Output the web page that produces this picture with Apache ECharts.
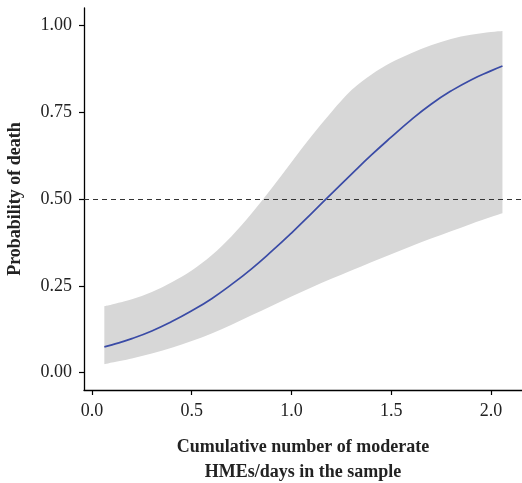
<!DOCTYPE html>
<html>
<head>
<meta charset="utf-8">
<script src="https://cdn.jsdelivr.net/npm/echarts@6/dist/echarts.min.js"></script>
<style>html,body{margin:0;padding:0;background:#fff;}#c{width:522px;height:483px;}</style>
</head>
<body>
<div id="c"></div>
<script>
// Cumulative number of moderate HMEs/days (x)
var xs = [0.062, 0.1, 0.2, 0.3, 0.4, 0.5, 0.6, 0.7, 0.8, 0.9, 1.0, 1.1, 1.2, 1.3, 1.4, 1.5, 1.6, 1.7, 1.8, 1.9, 2.0, 2.058];
// Fitted probability of death
var fitted = [0.074, 0.080, 0.098, 0.120, 0.147, 0.178, 0.213, 0.254, 0.299, 0.349, 0.402, 0.458, 0.515, 0.571, 0.626, 0.678, 0.728, 0.773, 0.811, 0.843, 0.869, 0.883];
// Confidence band
var upper = [0.191, 0.196, 0.211, 0.232, 0.260, 0.294, 0.338, 0.393, 0.458, 0.530, 0.606, 0.681, 0.750, 0.813, 0.858, 0.893, 0.920, 0.943, 0.961, 0.973, 0.981, 0.984];
var lower = [0.024, 0.029, 0.041, 0.055, 0.072, 0.091, 0.113, 0.138, 0.165, 0.192, 0.219, 0.245, 0.270, 0.294, 0.318, 0.341, 0.364, 0.386, 0.407, 0.428, 0.448, 0.459];
var refLevel = 0.5;
var xTicks = [0, 0.5, 1.0, 1.5, 2.0];
var yTicks = [0, 0.25, 0.5, 0.75, 1.0];
var xTitle = 'Cumulative number of moderate\nHMEs/days in the sample';
var yTitle = 'Probability of death';

var font = '"Liberation Serif", "DejaVu Serif", serif';
var chart = echarts.init(document.getElementById('c'), null, {renderer: 'canvas'});

var bandData = xs.map(function (x, i) { return [x, upper[i], lower[i]]; });
var fitData = xs.map(function (x, i) { return [x, fitted[i]]; });

// Catmull-Rom -> cubic Bezier path segments through pixel points
function curveCmds(pts) {
  var s = '';
  for (var i = 0; i < pts.length - 1; i++) {
    var p0 = pts[i - 1] || pts[i], p1 = pts[i], p2 = pts[i + 1], p3 = pts[i + 2] || pts[i + 1];
    var c1x = p1[0] + (p2[0] - p0[0]) / 6, c1y = p1[1] + (p2[1] - p0[1]) / 6;
    var c2x = p2[0] - (p3[0] - p1[0]) / 6, c2y = p2[1] - (p3[1] - p1[1]) / 6;
    s += ' C' + c1x + ' ' + c1y + ' ' + c2x + ' ' + c2y + ' ' + p2[0] + ' ' + p2[1];
  }
  return s;
}

function renderBand(params, api) {
  if (params.dataIndex !== 0) return null;
  var up = [], lo = [];
  for (var i = 0; i < bandData.length; i++) {
    up.push(api.coord([bandData[i][0], bandData[i][1]]));
    lo.push(api.coord([bandData[i][0], bandData[i][2]]));
  }
  lo.reverse();
  var d = 'M' + up[0][0] + ' ' + up[0][1] + curveCmds(up) +
          ' L' + lo[0][0] + ' ' + lo[0][1] + curveCmds(lo) + ' Z';
  return {
    type: 'path',
    shape: {pathData: d},
    style: {fill: '#D7D7D7', stroke: null}
  };
}

chart.setOption({
  animation: false,
  backgroundColor: '#ffffff',
  grid: {left: 84, right: 0, top: 8, bottom: 93, containLabel: false},
  xAxis: {
    type: 'value', min: -0.04, max: 2.156,
    axisLine: {show: true, onZero: false, lineStyle: {color: '#000', width: 1.3}},
    axisTick: {show: true, length: 5, customValues: xTicks, lineStyle: {color: '#000', width: 1.2}},
    axisLabel: {customValues: xTicks, margin: 12, color: '#222', fontFamily: font, fontSize: 18,
      formatter: function (v) { return v.toFixed(1); }},
    splitLine: {show: false}
  },
  yAxis: {
    type: 'value', min: -0.05, max: 1.05,
    axisLine: {show: true, onZero: false, lineStyle: {color: '#000', width: 1.3}},
    axisTick: {show: true, length: 5, customValues: yTicks, lineStyle: {color: '#000', width: 1.2}},
    axisLabel: {customValues: yTicks, margin: 12, color: '#222', fontFamily: font, fontSize: 18,
      formatter: function (v) { return v.toFixed(2); }},
    splitLine: {show: false}
  },
  series: [
    {
      name: 'band', type: 'custom', data: bandData, renderItem: renderBand,
      encode: {x: 0, y: [1, 2]}, silent: true, z: 1
    },
    {
      name: 'fitted', type: 'line', data: fitData, symbol: 'none', smooth: 0.5,
      lineStyle: {color: '#3A4BA6', width: 1.7}, z: 4,
      markLine: {
        silent: true, symbol: ['none', 'none'], label: {show: false},
        lineStyle: {type: [5, 4], color: '#333', width: 1.1},
        data: [{yAxis: refLevel}]
      }
    }
  ],
  graphic: [
    {
      type: 'text', x: 15, y: 199, rotation: Math.PI / 2,
      style: {text: yTitle, font: 'bold 18px ' + font, fill: '#222', textAlign: 'center', textVerticalAlign: 'middle'}
    },
    {
      type: 'text', x: 303, y: 460,
      style: {text: xTitle, font: 'bold 18px ' + font, fill: '#222', textAlign: 'center', textVerticalAlign: 'middle', lineHeight: 25}
    }
  ]
});
</script>
</body>
</html>
